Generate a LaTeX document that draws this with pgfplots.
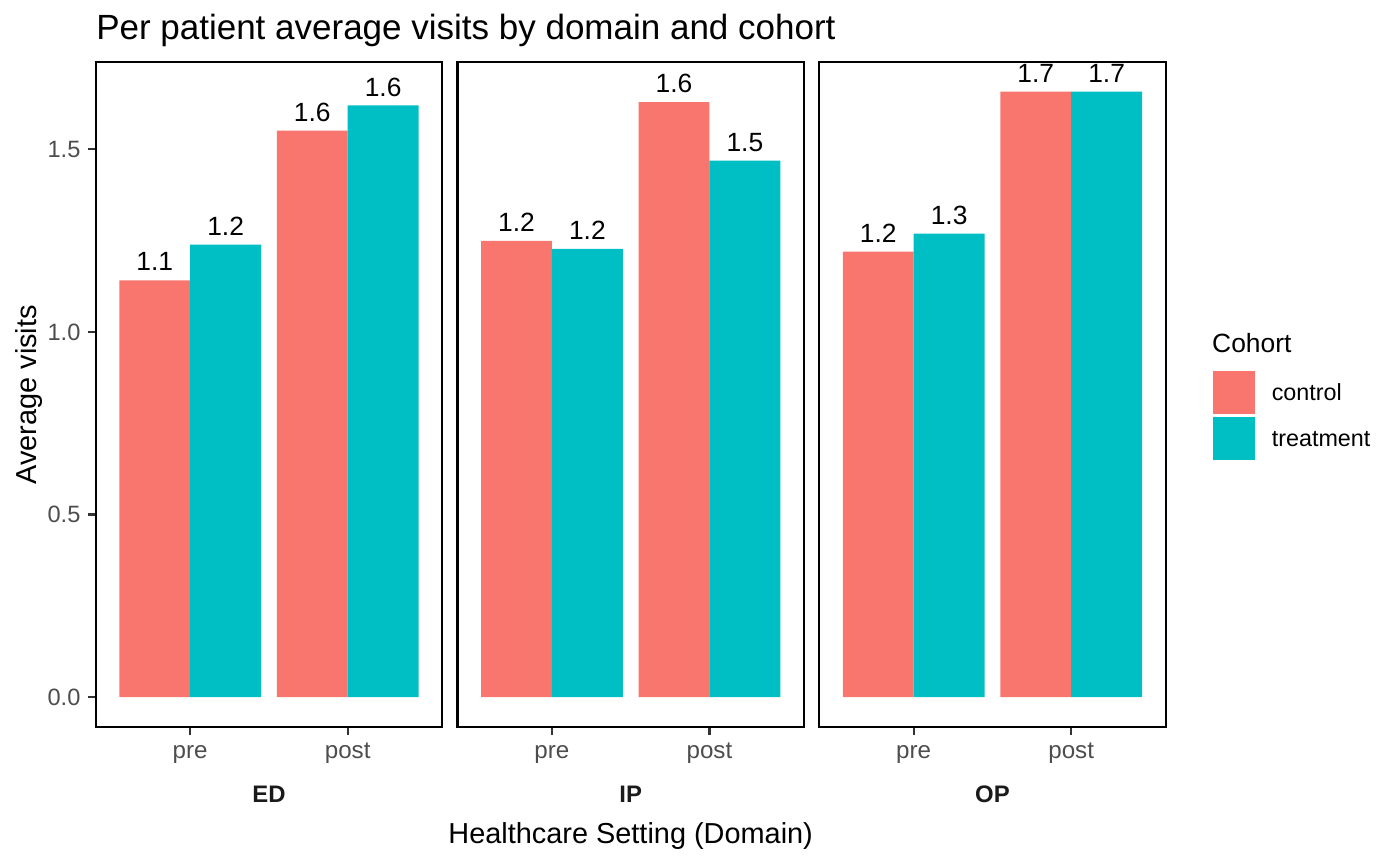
\documentclass[border=0pt]{standalone}
\usepackage{pgfplots}
\pgfplotsset{compat=1.18}
\usepackage{pgfplotstable}
\usepackage{fontspec}
\setmainfont{Liberation Sans}
\definecolor{ctrl}{HTML}{F8766D}
\definecolor{trt}{HTML}{00BFC4}
\definecolor{gray30}{HTML}{4D4D4D}
\definecolor{gray20}{HTML}{333333}
\definecolor{gray10}{HTML}{1A1A1A}

\pgfplotstableread{
x c cl t tl
1 1.141 1.1 1.239 1.2
2 1.551 1.6 1.620 1.6
}\tabED
\pgfplotstableread{
x c cl t tl
1 1.249 1.2 1.227 1.2
2 1.629 1.6 1.469 1.5
}\tabIP
\pgfplotstableread{
x c cl t tl
1 1.220 1.2 1.269 1.3
2 1.658 1.7 1.658 1.7
}\tabOP

\pgfplotsset{
  panel/.style={
    scale only axis, width=124.73pt, height=239.51pt, anchor=south west,
    xmin=0.4, xmax=2.6, ymin=-0.0828, ymax=1.739,
    xtick={1,2}, xticklabels={pre,post},
    xtick pos=bottom, ytick pos=left,
    tick align=outside, major tick length=2.75pt,
    every tick/.style={gray20, line width=0.8pt},
    axis line style={black, line width=0.8pt},
    xticklabel style={font=\fontsize{8.7}{10}\selectfont, text=gray30, anchor=base, inner sep=0pt, yshift=-8.42pt},
    yticklabel style={font=\fontsize{8.5}{10}\selectfont, text=gray30, anchor=east, inner sep=0pt, xshift=-2.55pt},
    clip marker paths=true,
  },
  barlab/.style={every node near coord/.append style={font=\fontsize{9.5}{11}\selectfont, text=black, anchor=base, inner sep=0pt, yshift=3.4pt, xshift=#1}},
  cbar/.style={ybar, bar width=0.45, bar shift=-0.225, fill=ctrl, draw=none,
    nodes near coords, point meta=explicit symbolic, barlab=-12.757pt,
    legend image code/.code={\fill[ctrl] (0pt,-7.75pt) rectangle (15.2pt,7.75pt); \path (21.25pt,0pt);}},
  tbar/.style={ybar, bar width=0.45, bar shift=0.225, fill=trt, draw=none,
    nodes near coords, point meta=explicit symbolic, barlab=12.757pt,
    legend image code/.code={\fill[trt] (0pt,-7.75pt) rectangle (15.2pt,7.75pt); \path (21.25pt,0pt);}},
}

\begin{document}
\begin{tikzpicture}
\path[use as bounding box] (0pt,0pt) rectangle (504pt,311.4pt);

\begin{axis}[panel, at={(34.45pt,49.57pt)},
  ytick={0,0.5,1,1.5}, yticklabels={0.0,0.5,1.0,1.5}]
\addplot[cbar] table[x=x, y=c, meta=cl] {\tabED};
\addplot[tbar] table[x=x, y=t, meta=tl] {\tabED};
\end{axis}

\begin{axis}[panel, at={(164.68pt,49.57pt)}, ytick=\empty]
\addplot[cbar] table[x=x, y=c, meta=cl] {\tabIP};
\addplot[tbar] table[x=x, y=t, meta=tl] {\tabIP};
\end{axis}

\begin{axis}[panel, at={(294.91pt,49.57pt)}, ytick=\empty,
  legend style={draw=none, fill=none, at={(1.1360,0.5358)}, anchor=north west,
    inner sep=0pt, outer sep=0pt, row sep=1.2pt, column sep=0pt,
    nodes={inner sep=0pt, text depth=0pt, font=\fontsize{8.4}{10}\selectfont, text=black}},
  legend cell align=left]
\addplot[cbar] table[x=x, y=c, meta=cl] {\tabOP};
\addlegendentry{control}
\addplot[tbar] table[x=x, y=t, meta=tl] {\tabOP};
\addlegendentry{treatment}
\end{axis}

\node[anchor=base west, inner sep=0pt, font=\fontsize{12.6}{14}\selectfont] at (34.45pt,297pt) {Per patient average visits by domain and cohort};
\node[anchor=base, inner sep=0pt, font=\fontsize{10.4}{12}\selectfont] at (227.05pt,7.81pt) {Healthcare Setting (Domain)};
\node[rotate=90, anchor=base, inner sep=0pt, font=\fontsize{10.4}{12}\selectfont] at (13pt,169.3pt) {Average visits};
\node[anchor=base, inner sep=0pt, font=\fontsize{8.6}{10}\selectfont\bfseries, text=gray10] at (96.82pt,22.57pt) {ED};
\node[anchor=base, inner sep=0pt, font=\fontsize{8.6}{10}\selectfont\bfseries, text=gray10] at (227.05pt,22.57pt) {IP};
\node[anchor=base, inner sep=0pt, font=\fontsize{8.6}{10}\selectfont\bfseries, text=gray10] at (357.28pt,22.57pt) {OP};
\node[anchor=base west, inner sep=0pt, font=\fontsize{9.5}{11}\selectfont] at (436.2pt,184.6pt) {Cohort};
\end{tikzpicture}
\end{document}
